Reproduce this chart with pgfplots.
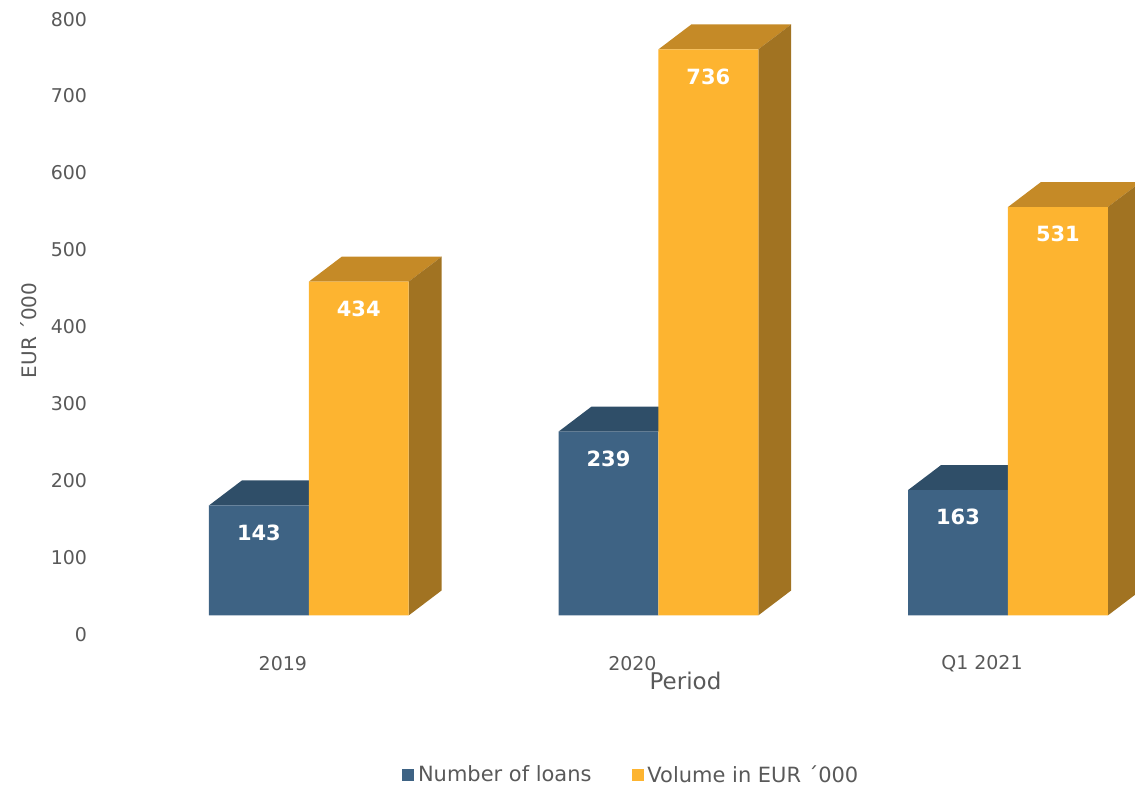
\documentclass[border=0pt]{standalone}
\usepackage{pgfplots}
\pgfplotsset{compat=1.18}
\usepackage{fontspec}
\setmainfont{DejaVu Sans}

\definecolor{blueF}{HTML}{3E6384}
\definecolor{blueT}{HTML}{2F4E68}
\definecolor{orgF}{HTML}{FDB430}
\definecolor{orgT}{HTML}{C58A27}
\definecolor{orgS}{HTML}{A17322}
\definecolor{txt}{HTML}{595959}

\begin{document}
\begin{tikzpicture}
\begin{axis}[
  x=175pt, y=0.385pt,
  xmin=-0.8829, xmax=2.3629,
  ymin=-224.7, ymax=800,
  clip=true,
  axis line style={draw=none},
  major tick length=0pt,
  xtick={0,1,2},
  xticklabels={2019,2020,Q1 2021},
  ytick={0,100,...,800},
  /pgf/number format/assume math mode=true,
  tick label style={font=\fontsize{9.5}{11}\selectfont, text=txt},
  xticklabel style={anchor=center, xshift=-13pt, yshift=62.5pt},
  yticklabel style={anchor=east, xshift=47pt, yshift=-9.5pt},
  xlabel={Period},
  ylabel={EUR ´000},
  every axis x label/.style={at={(axis description cs:0.604,0.136)}, anchor=center,
    font=\fontsize{11.5}{13}\selectfont, text=txt},
  every axis y label/.style={at={(axis description cs:0.0247,0.581)}, anchor=center,
    rotate=90, font=\fontsize{10}{12}\selectfont, text=txt},
  legend columns=2,
  legend style={at={(0.557,0.0165)}, anchor=center, draw=none, fill=none,
    font=\fontsize{10.5}{12}\selectfont, text=txt,
    /tikz/every even column/.append style={column sep=18pt}},
  legend image code/.code={\fill[#1] (0pt,-3pt) rectangle (6pt,3pt);},
]

% top faces of the "Number of loans" bars
\addplot[fill=blueT, draw=none, forget plot] coordinates {(-0.2857,143) (0,143) (0.0943,175.5) (-0.1914,175.5)} --cycle;
\addplot[fill=blueT, draw=none, forget plot] coordinates {(0.7143,239) (1,239) (1.0943,271.5) (0.8086,271.5)} --cycle;
\addplot[fill=blueT, draw=none, forget plot] coordinates {(1.7143,163) (2,163) (2.0943,195.5) (1.8086,195.5)} --cycle;

\addplot[ybar, bar width=0.2857, bar shift=-0.142857, fill=blueF, draw=none,
  nodes near coords,
  every node near coord/.append style={anchor=center, xshift=-25pt, yshift=-13.5pt, text=white,
    font=\bfseries\fontsize{10.5}{12}\selectfont}]
  coordinates {(0,143) (1,239) (2,163)};
\addlegendentry{Number of loans}

% top and side faces of the volume bars
\addplot[fill=orgT, draw=none, forget plot] coordinates {(0,434) (0.2857,434) (0.38,466.5) (0.0943,466.5)} --cycle;
\addplot[fill=orgS, draw=none, forget plot] coordinates {(0.2857,0) (0.38,32.5) (0.38,466.5) (0.2857,434)} --cycle;
\addplot[fill=orgT, draw=none, forget plot] coordinates {(1,736) (1.2857,736) (1.38,768.5) (1.0943,768.5)} --cycle;
\addplot[fill=orgS, draw=none, forget plot] coordinates {(1.2857,0) (1.38,32.5) (1.38,768.5) (1.2857,736)} --cycle;
\addplot[fill=orgT, draw=none, forget plot] coordinates {(2,531) (2.2857,531) (2.38,563.5) (2.0943,563.5)} --cycle;
\addplot[fill=orgS, draw=none, forget plot] coordinates {(2.2857,0) (2.38,32.5) (2.38,563.5) (2.2857,531)} --cycle;

\addplot[ybar, bar width=0.2857, bar shift=0.142857, fill=orgF, draw=none,
  nodes near coords,
  every node near coord/.append style={anchor=center, xshift=25pt, yshift=-13.5pt, text=white,
    font=\bfseries\fontsize{10.5}{12}\selectfont}]
  coordinates {(0,434) (1,736) (2,531)};
\addlegendentry{Volume in EUR ´000}

\end{axis}
\end{tikzpicture}
\end{document}
